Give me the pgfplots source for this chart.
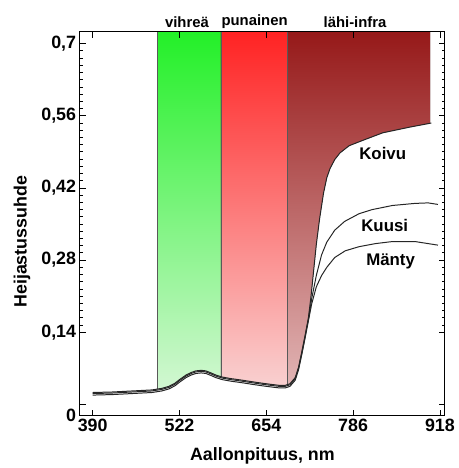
\documentclass[border=0pt]{standalone}
\usepackage{fontspec}
\setmainfont{Liberation Sans}
\usepackage{pgfplots}
\usepackage{pgfplotstable}
\pgfplotsset{compat=1.18}
\usepgfplotslibrary{fillbetween}

\definecolor{gtop}{RGB}{35,240,40}
\definecolor{gmid}{RGB}{75,236,75}
\definecolor{gbot}{RGB}{210,247,210}
\definecolor{rtop}{RGB}{255,35,35}
\definecolor{rmid}{RGB}{255,85,85}
\definecolor{rbot}{RGB}{249,208,208}
\definecolor{dtop}{RGB}{150,25,25}
\definecolor{dmid}{RGB}{168,52,52}
\definecolor{dbot}{RGB}{225,180,180}

\pgfplotstableread{
x y
390 0.023
420 0.024
450 0.026
480 0.028
495 0.031
506 0.035
515 0.041
522 0.048
532 0.057
540 0.062
547 0.065
555 0.066
562 0.065
570 0.061
577 0.057
587 0.053
600 0.050
617 0.047
632 0.044
648 0.041
660 0.039
673 0.037
683 0.037
690 0.040
698 0.052
703 0.072
708 0.102
713 0.134
718 0.168
722 0.21
726 0.26
730 0.31
735 0.36
741 0.41
746 0.44
751 0.458
758 0.475
766 0.488
780 0.502
800 0.512
831 0.527
872 0.538
905 0.546
}\koivu

\pgfplotstableread{
x y
390 0.021
420 0.022
450 0.024
480 0.026
495 0.029
506 0.033
515 0.039
522 0.046
532 0.055
540 0.060
547 0.063
555 0.064
562 0.063
570 0.059
577 0.055
587 0.051
600 0.048
617 0.045
632 0.042
648 0.039
660 0.037
673 0.035
683 0.035
690 0.038
698 0.050
703 0.070
708 0.100
713 0.132
718 0.165
723 0.205
730 0.25
738 0.29
746 0.315
758 0.338
773 0.355
795 0.37
815 0.378
846 0.386
880 0.39
900 0.391
915 0.388
}\kuusi

\pgfplotstableread{
x y
390 0.018
420 0.019
450 0.021
480 0.023
495 0.026
506 0.030
515 0.036
522 0.043
532 0.052
540 0.057
547 0.060
555 0.061
562 0.060
570 0.056
577 0.052
587 0.048
600 0.045
617 0.042
632 0.039
648 0.036
660 0.034
673 0.032
683 0.032
690 0.035
698 0.047
703 0.067
708 0.097
713 0.129
718 0.162
723 0.195
730 0.228
738 0.25
746 0.266
758 0.285
774 0.298
795 0.306
820 0.312
846 0.316
880 0.316
915 0.309
}\manty

\begin{document}
\begin{tikzpicture}
\begin{axis}[
  name=ax,
  scale only axis, width=367bp, height=386bp,
  xmin=370, xmax=925, ymin=-0.022, ymax=0.723,
  xtick={390,522,654,786,918},
  ytick={0.14,0.28,0.42,0.56,0.7},
  extra y ticks={0},
  extra y tick style={yticklabel style={yshift=-11bp}},
  minor y tick num=9,
  tick align=inside,
  major tick length=6bp, minor tick length=3bp,
  tick style={black, line width=0.8bp},
  axis line style={line width=1bp},
  axis on top,
  ticklabel style={font=\fontsize{18}{18}\selectfont\bfseries},
  /pgf/number format/assume math mode=true,
  /pgf/number format/use comma,
  xlabel={Aallonpituus, nm}, ylabel={Heijastussuhde},
  label style={font=\fontsize{18}{18}\selectfont\bfseries},
  xlabel style={at={(axis description cs:0.501,-0.106)}, anchor=center},
  ylabel style={at={(axis description cs:-0.158,0.453)}, anchor=center},
]
\addplot[draw=none, name path=top, forget plot] coordinates {(370,0.723) (925,0.723)};
\addplot[draw=none, name path=kv, forget plot] table[x=x,y=y] {\koivu};

\addplot[top color=gtop, middle color=gmid, bottom color=gbot, draw=none] fill between[of=top and kv, soft clip={domain=488:585}];
\addplot[top color=rtop, middle color=rmid, bottom color=rbot, draw=none] fill between[of=top and kv, soft clip={domain=585:686}];
\addplot[top color=dtop, middle color=dmid, bottom color=dbot, draw=none] fill between[of=top and kv, soft clip={domain=686:903}];

\addplot[black!65, line width=0.7bp] coordinates {(488,0.030) (488,0.723)};
\addplot[black!65, line width=0.7bp] coordinates {(585,0.054) (585,0.723)};
\addplot[black!65, line width=0.7bp] coordinates {(686,0.038) (686,0.723)};

\addplot[black!85, line width=1bp] table[x=x,y=y] {\manty};
\addplot[black!85, line width=1bp] table[x=x,y=y] {\kuusi};
\addplot[black!85, line width=1bp] table[x=x,y=y] {\koivu};

\node[font=\fontsize{17}{17}\selectfont\bfseries] at (axis cs:831,0.486) {Koivu};
\node[font=\fontsize{17}{17}\selectfont\bfseries] at (axis cs:834,0.348) {Kuusi};
\node[font=\fontsize{17}{17}\selectfont\bfseries] at (axis cs:843,0.278) {Mänty};
\end{axis}
\begin{scope}[font=\fontsize{15}{15}\selectfont\bfseries]
\node at ([shift={(108bp,10bp)}]ax.north west) {vihreä};
\node at ([shift={(176bp,10bp)}]ax.north west) {punainen};
\node at ([shift={(277bp,10bp)}]ax.north west) {lähi-infra};
\end{scope}
\path ([shift={(-80bp,-50bp)}]ax.south west) rectangle ([shift={(10bp,32bp)}]ax.north east);
\end{tikzpicture}
\end{document}
